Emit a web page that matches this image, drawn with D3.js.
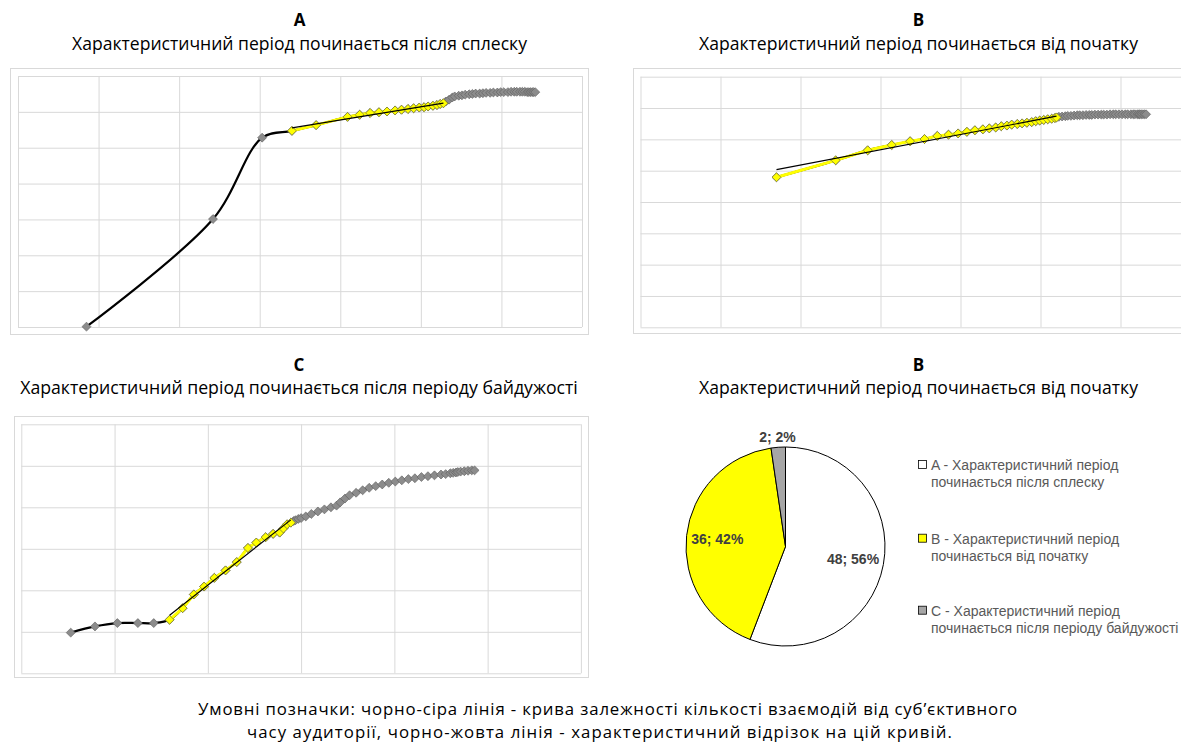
<!DOCTYPE html>
<html><head><meta charset="utf-8">
<script src="https://cdn.jsdelivr.net/npm/d3@7"></script>
<style>body{margin:0;background:#fff;overflow:hidden} svg{display:block}</style>
</head><body>
<svg id="chart" width="1181" height="745"></svg>
<script>
// ---------------- DATA ----------------
const panelLetters = ["A", "B", "C", "B"];
const panelTitles = [
  "Характеристичний період починається після сплеску",
  "Характеристичний період починається від початку",
  "Характеристичний період починається після періоду байдужості",
  "Характеристичний період починається від початку"
];
const captionLines = [
  "Умовні позначки: чорно-сіра лінія - крива залежності кількості взаємодій від суб’єктивного",
  "часу аудиторії, чорно-жовта лінія - характеристичний відрізок на цій кривій."
];

// Panel A: subjective time vs. number of interactions (arbitrary units)
const aTime = [8.5, 24.2, 30.3,
  34.0, 37.0, 40.9, 42.4, 43.7, 44.8, 45.8, 46.8, 47.6, 48.4, 49.1, 49.8, 50.4, 50.9, 51.5, 52.0, 52.4, 52.8,
  53.1, 53.5, 53.9, 54.2, 54.7, 55.1, 55.5, 56.0, 56.4, 56.8, 57.3, 57.7, 58.1, 58.6, 59.0, 59.5, 59.9, 60.3,
  60.8, 61.2, 61.6, 61.9, 62.3, 62.6, 62.9, 63.2, 63.4, 63.6, 63.8, 64.0, 64.2];
const aCount = [0.1, 30.1, 52.8,
  54.7, 56.3, 58.6, 59.2, 59.7, 59.9, 60.1, 60.4, 60.6, 60.8, 61.0, 61.2, 61.3, 61.5, 61.7, 61.9, 62.2, 62.4,
  62.9, 63.4, 64.0, 64.3, 64.5, 64.6, 64.8, 64.9, 65.0, 65.1, 65.1, 65.2, 65.3, 65.3, 65.4, 65.4, 65.5, 65.5,
  65.5, 65.6, 65.6, 65.6, 65.6, 65.6, 65.6, 65.5, 65.5, 65.5, 65.5, 65.5, 65.5];
const aSegment = [3, 20]; // first and last index of the characteristic period

// Panel B
const bTime = [17.0, 24.4, 28.4, 31.4, 33.7, 35.5, 37.1, 38.5, 39.7, 40.8, 41.8, 42.8, 43.6, 44.4, 45.1, 45.8,
  46.4, 47.1, 47.7, 48.3, 48.9, 49.4, 49.9, 50.4, 50.9, 51.4, 51.8, 52.0,
  52.3, 52.7, 53.1, 53.4, 53.8, 54.2, 54.6, 54.9, 55.3, 55.7, 56.1, 56.4, 56.8, 57.2, 57.6, 57.9, 58.3, 58.7,
  59.1, 59.4, 59.8, 60.2, 60.6, 60.9, 61.3, 61.6, 61.8, 62.1, 62.3, 62.4, 62.6, 62.8, 63.0, 63.2];
const bCount = [47.9, 53.3, 56.5, 58.2, 59.4, 60.1, 61.1, 61.5, 61.9, 62.4, 62.9, 63.2, 63.5, 63.8, 64.2, 64.4,
  64.7, 64.9, 65.1, 65.3, 65.5, 65.8, 66.0, 66.2, 66.4, 66.6, 66.8, 67.0,
  67.2, 67.3, 67.4, 67.5, 67.5, 67.6, 67.7, 67.7, 67.7, 67.8, 67.8, 67.8, 67.9, 67.9, 67.9, 67.9, 67.9, 68.0,
  68.0, 68.0, 68.0, 68.0, 68.0, 68.0, 68.0, 68.0, 68.0, 68.0, 68.0, 68.0, 68.0, 68.0, 68.0, 68.0];
const bSegment = [0, 27];

// Panel C
const cTime = [5.3, 7.9, 10.3, 12.5, 14.2,
  15.9, 17.3, 18.5, 19.6, 20.7, 21.9, 23.1, 24.3, 25.2, 26.2, 27.0, 27.7, 28.1, 28.5, 28.9,
  29.2, 29.4, 29.7, 30.0, 30.5, 31.1, 31.8, 32.5, 33.2, 33.8, 34.2, 34.7, 35.2, 35.9, 36.6, 37.3, 38.0, 38.7,
  39.4, 40.1, 40.8, 41.5, 42.2, 42.9, 43.6, 44.3, 45.0, 45.5, 46.0, 46.3, 46.6, 46.8, 47.1, 47.5, 47.9, 48.3, 48.6];
const cCount = [9.8, 11.3, 12.1, 12.1, 12.1,
  12.9, 15.7, 19.0, 20.9, 23.0, 24.8, 26.8, 30.2, 31.5, 32.8, 33.6, 33.9, 34.9, 35.9, 36.3,
  36.7, 36.9, 37.2, 37.4, 37.8, 38.4, 39.0, 39.5, 40.0, 40.4, 41.2, 42.1, 42.9, 43.5, 44.1, 44.7, 45.1, 45.5,
  45.9, 46.2, 46.5, 46.8, 47.0, 47.3, 47.5, 47.7, 47.9, 48.0, 48.2, 48.3, 48.4, 48.5, 48.6, 48.7, 48.8, 48.9, 48.9];
const cSegment = [5, 19];

// Pie: number of audiences by type
const pieLabels = [
  ["A - Характеристичний період", "починається після сплеску"],
  ["B - Характеристичний період", "починається від початку"],
  ["C - Характеристичний період", "починається після періоду байдужості"]
];
const pieValues = [48, 36, 2];

// ---------------- DRAWING ----------------
const svg = d3.select("#chart");
const TITLE_FONT = "'Segoe UI', 'Open Sans', 'Noto Sans', sans-serif";
const ARIAL = "'Liberation Sans', Arial, sans-serif";
const GRID = "#d9d9d9";

// scale font so that the rendered text spans the measured width of the reference
function fitWidth(sel, target) {
  const base = 16;
  sel.attr("font-size", base);
  const len = sel.node().getComputedTextLength();
  sel.attr("font-size", (base * target / len).toFixed(2));
}
// keep a fixed font size, reach the target width with letter spacing
function fitSpacing(sel, size, target) {
  sel.attr("font-size", size).attr("letter-spacing", 0);
  const len = sel.node().getComputedTextLength();
  const n = sel.text().length;
  sel.attr("letter-spacing", ((target - len) / n).toFixed(3));
}

function title(cx, y1, y2, i, width) {
  svg.append("text").attr("x", cx).attr("y", y1).attr("text-anchor", "middle")
    .attr("font-family", TITLE_FONT).attr("font-weight", "bold").attr("font-size", 17)
    .attr("fill", "#000").text(panelLetters[i]);
  const t = svg.append("text").attr("x", cx).attr("y", y2).attr("text-anchor", "middle")
    .attr("font-family", TITLE_FONT).attr("fill", "#000").text(panelTitles[i]);
  fitWidth(t, width);
}

function linePanel(cfg) {
  const g = svg.append("g");
  g.append("rect").attr("x", cfg.frame[0] + 0.5).attr("y", cfg.frame[1] + 0.5)
    .attr("width", cfg.frame[2] - cfg.frame[0]).attr("height", cfg.frame[3] - cfg.frame[1])
    .attr("fill", "#fff").attr("stroke", GRID);
  const x = d3.scaleLinear().domain(cfg.xDomain).range(cfg.xRange);
  const y = d3.scaleLinear().domain(cfg.yDomain).range(cfg.yRange);
  const w = cfg.xRange[1] - cfg.xRange[0], h = cfg.yRange[0] - cfg.yRange[1];
  const gx = g.append("g").attr("transform", `translate(0,${cfg.yRange[0]})`)
    .call(d3.axisBottom(x).tickValues(d3.range(cfg.xDomain[0], cfg.xDomain[1] + 0.001, cfg.xStep))
      .tickSize(-h).tickFormat(""));
  const gy = g.append("g").attr("transform", `translate(${cfg.xRange[0]},0)`)
    .call(d3.axisLeft(y).tickValues(d3.range(cfg.yDomain[0], cfg.yDomain[1] + 0.001, cfg.yStep))
      .tickSize(-w).tickFormat(""));
  [gx, gy].forEach(a => {
    a.select(".domain").remove();
    a.selectAll(".tick line").attr("stroke", GRID).attr("stroke-width", 1);
  });

  const pts = cfg.t.map((v, i) => [v, cfg.c[i]]);
  const seg = pts.slice(cfg.seg[0], cfg.seg[1] + 1);
  const smooth = d3.line().x(d => x(d[0])).y(d => y(d[1])).curve(d3.curveCatmullRom.alpha(0.5));
  const straight = d3.line().x(d => x(d[0])).y(d => y(d[1]));

  g.append("path").attr("d", smooth(pts)).attr("fill", "none")
    .attr("stroke", "#000").attr("stroke-width", 2.2);
  const diamond = d3.symbol().type(d3.symbolSquare).size(40);
  g.selectAll(".gm").data(pts).join("path")
    .attr("transform", d => `translate(${x(d[0])},${y(d[1])}) rotate(45)`)
    .attr("d", diamond).attr("fill", "#8c8c8c").attr("stroke", "#5f5f5f").attr("stroke-width", 0.6);

  g.append("path").attr("d", straight(seg)).attr("fill", "none")
    .attr("stroke", "#ffff00").attr("stroke-width", 3);
  g.selectAll(".ym").data(seg).join("path")
    .attr("transform", d => `translate(${x(d[0])},${y(d[1])}) rotate(45)`)
    .attr("d", diamond).attr("fill", "#ffff00").attr("stroke", "#77773a").attr("stroke-width", 0.7);

  // linear trend of the characteristic segment (least squares)
  const n = seg.length;
  const mx = d3.mean(seg, d => d[0]), my = d3.mean(seg, d => d[1]);
  const sxy = d3.sum(seg, d => (d[0] - mx) * (d[1] - my));
  const sxx = d3.sum(seg, d => (d[0] - mx) ** 2);
  const k = sxy / sxx, b0 = my - k * mx;
  const x0 = seg[0][0], x1 = seg[n - 1][0];
  g.append("path").attr("d", straight([[x0, k * x0 + b0], [x1, k * x1 + b0]]))
    .attr("fill", "none").attr("stroke", "#000").attr("stroke-width", 1.2);
}

title(299.5, 26, 50, 0, 455);
title(918.5, 26, 50, 1, 439);
title(299, 371, 394, 2, 558);
title(918.5, 371, 394, 3, 439);

linePanel({frame: [10, 68, 588, 334], xDomain: [0, 70], xStep: 10, yDomain: [0, 70], yStep: 10,
  xRange: [18, 582], yRange: [327, 76], t: aTime, c: aCount, seg: aSegment});
linePanel({frame: [633, 68, 1208, 333], xDomain: [0, 70], xStep: 10, yDomain: [0, 80], yStep: 10,
  xRange: [640.5, 1200.5], yRange: [327.3, 76.7], t: bTime, c: bCount, seg: bSegment});
linePanel({frame: [14, 416, 588, 677], xDomain: [0, 60], xStep: 10, yDomain: [0, 60], yStep: 10,
  xRange: [21.3, 580.9], yRange: [673.3, 424.3], t: cTime, c: cCount, seg: cSegment});

// ---- pie ----
const pieColors = ["#ffffff", "#ffff00", "#a6a6a6"];
const cx = 785.5, cy = 546.5, r = 99.5;
const total = d3.sum(pieValues);
const arcs = d3.pie().sort(null).value(d => d)(pieValues);
const arc = d3.arc().innerRadius(0).outerRadius(r);
const pg = svg.append("g").attr("transform", `translate(${cx},${cy})`);
pg.selectAll("path").data(arcs).join("path").attr("d", arc)
  .attr("fill", (d, i) => pieColors[i]).attr("stroke", "#000").attr("stroke-width", 1);
pg.selectAll("text").data(arcs).join("text")
  .attr("transform", d => {
    const a = (d.startAngle + d.endAngle) / 2;
    const rr = (d.endAngle - d.startAngle) < 0.3 ? r * 1.1 : r * 0.69;
    return `translate(${Math.sin(a) * rr},${-Math.cos(a) * rr})`;
  })
  .attr("text-anchor", "middle").attr("dy", "0.36em")
  .attr("font-family", ARIAL).attr("font-weight", "bold").attr("font-size", 14).attr("fill", "#404040")
  .text(d => `${d.data}; ${Math.round(d.data / total * 100)}%`);

// legend
const lg = svg.append("g");
const legendY = [465, 538.7, 610.7];
pieLabels.forEach((lines, i) => {
  lg.append("rect").attr("x", 918.5).attr("y", legendY[i] - 4.5).attr("width", 8).attr("height", 8)
    .attr("fill", pieColors[i]).attr("stroke", "#000").attr("stroke-width", 0.8);
  lines.forEach((t, j) => {
    lg.append("text").attr("x", 931).attr("y", legendY[i] + j * 17).attr("dy", "0.36em")
      .attr("font-family", ARIAL).attr("font-size", 14).attr("fill", "#595959").text(t);
  });
});

// caption
const capWidths = [820, 706];
captionLines.forEach((t, i) => {
  const el = svg.append("text").attr("x", i === 0 ? 608 : 600).attr("y", 714.5 + i * 23.5).attr("text-anchor", "middle")
    .attr("font-family", TITLE_FONT).attr("fill", "#000").text(t);
  fitSpacing(el, 16.8, capWidths[i]);
});
</script>
</body></html>
